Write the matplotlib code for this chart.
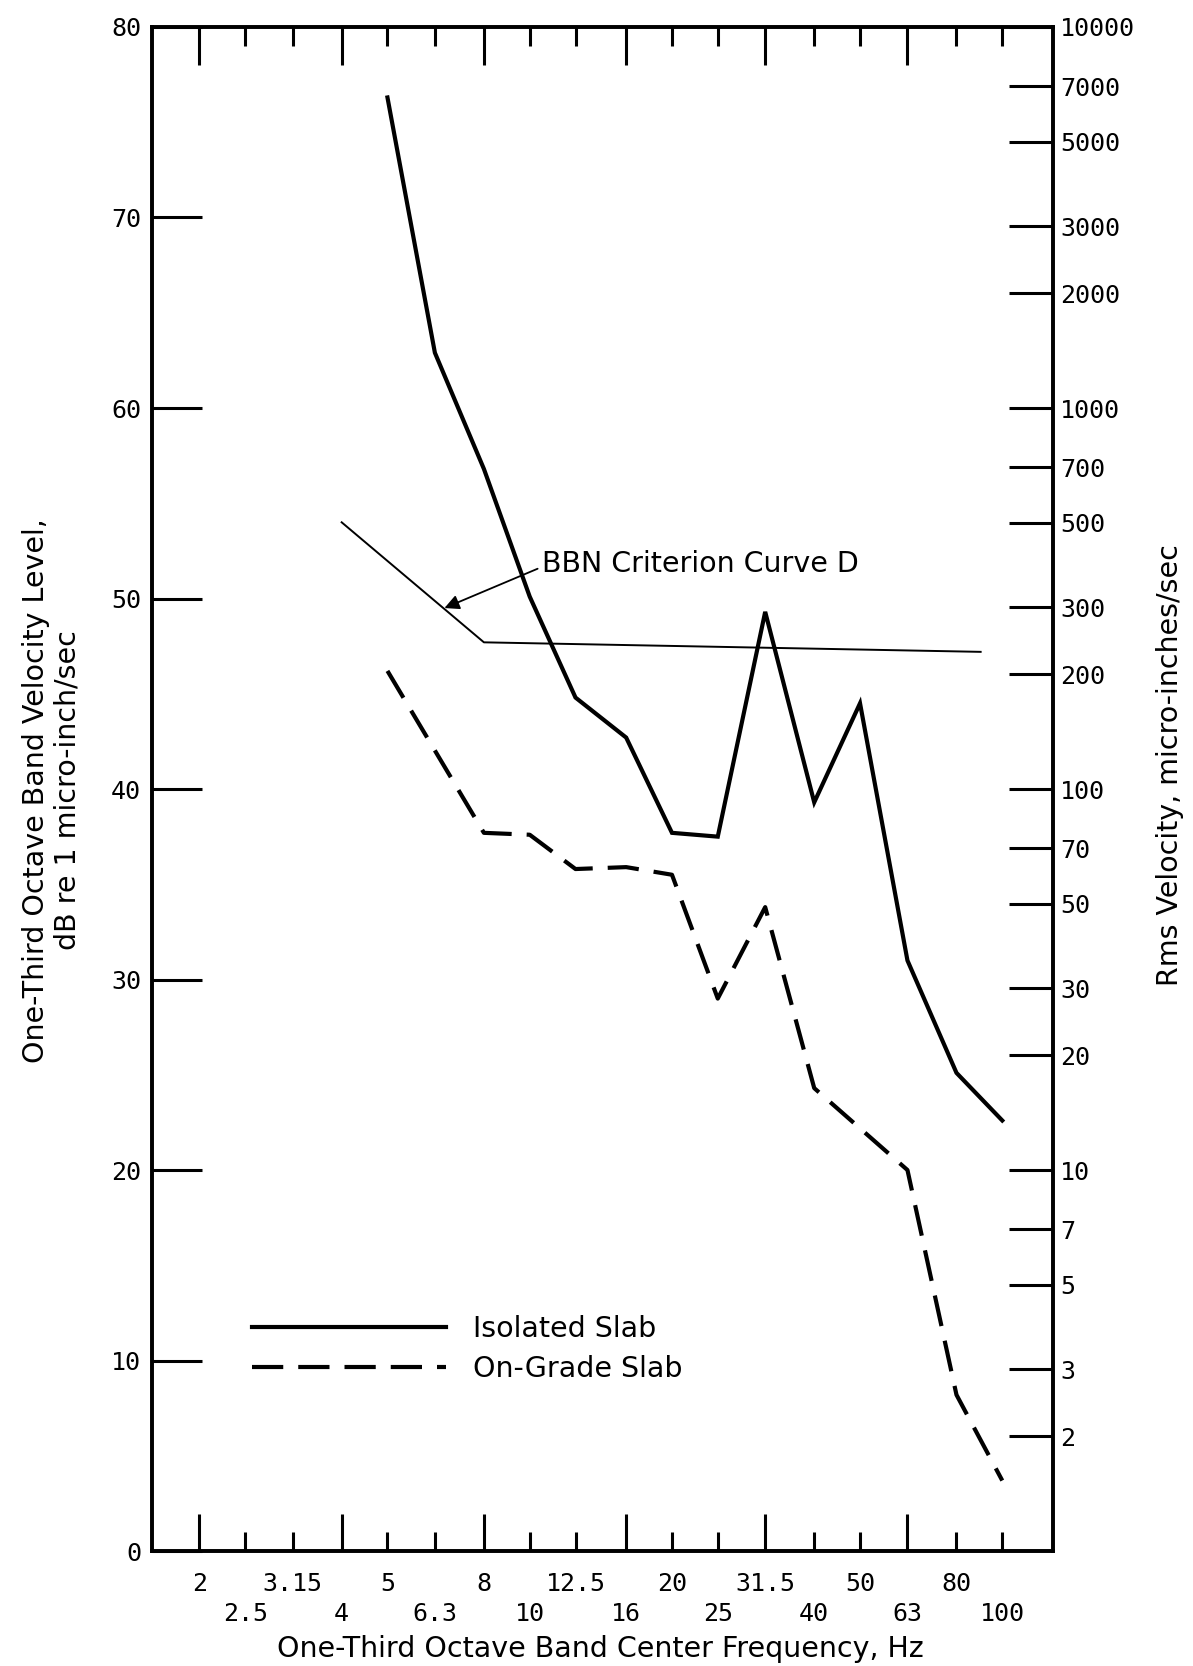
import matplotlib
matplotlib.use('Agg')
import matplotlib.pyplot as plt
from matplotlib.ticker import FixedLocator, FixedFormatter, NullLocator
from matplotlib.lines import Line2D

# ---- data ----
bands = [2, 2.5, 3.15, 4, 5, 6.3, 8, 10, 12.5, 16, 20, 25, 31.5, 40, 50, 63, 80, 100]
band_labels = ['2', '2.5', '3.15', '4', '5', '6.3', '8', '10', '12.5', '16',
               '20', '25', '31.5', '40', '50', '63', '80', '100']
octave_bands = [2, 4, 8, 16, 31.5, 63]

iso_freq = [5, 6.3, 8, 10, 12.5, 16, 20, 25, 31.5, 40, 50, 63, 80, 100]
iso_db = [76.3, 62.9, 56.8, 50.1, 44.8, 42.7, 37.7, 37.5, 49.3, 39.3, 44.5, 31.0, 25.1, 22.6]

grade_freq = [5, 8, 10, 12.5, 16, 20, 25, 31.5, 40, 63, 80, 100]
grade_db = [46.2, 37.7, 37.6, 35.8, 35.9, 35.5, 29.0, 33.8, 24.3, 20.0, 8.2, 3.7]

bbn_freq = [4, 8, 90]
bbn_db = [54.0, 47.7, 47.2]

left_ticks = [0, 10, 20, 30, 40, 50, 60, 70, 80]
right_ticks = [2, 3, 5, 7, 10, 20, 30, 50, 70, 100, 200, 300, 500, 700,
               1000, 2000, 3000, 5000, 7000, 10000]
right_labels = ['2', '3', '5', '7', '10', '20', '30', '50', '70', '100', '200', '300',
                '500', '700', '1000', '2000', '3000', '5000', '7000', '10000']

# ---- figure ----
fig = plt.figure(figsize=(11.93, 16.66), dpi=100)
ax = fig.add_axes([0.1274, 0.0690, 0.7552, 0.9148])

LW_FRAME = 2.6
mono = 'DejaVu Sans Mono'
sans = 'DejaVu Sans'
TICK_FS = 18
LAB_FS = 20.5
DASH = (0, (7.5, 3.6))

ax.plot(iso_freq, iso_db, color='black', lw=3.0, solid_joinstyle='miter', zorder=3)
ax.plot(grade_freq, grade_db, color='black', lw=3.0, linestyle=DASH,
        dash_capstyle='butt', zorder=3)
ax.plot(bbn_freq, bbn_db, color='black', lw=1.4, zorder=2)

ax.set_xscale('log')
fmin = bands[0] * 2 ** (-1 / 3)
fmax = bands[0] * 2 ** 6
ax.set_xlim(fmin, fmax)
ax.set_ylim(0, 80)

# x ticks: octave bands long (major), others short (minor)
major_idx = [i for i, b in enumerate(bands) if b in octave_bands]
minor_idx = [i for i, b in enumerate(bands) if b not in octave_bands]


def lab(i):
    return band_labels[i] if i % 2 == 0 else '\n' + band_labels[i]


ax.xaxis.set_major_locator(FixedLocator([bands[i] for i in major_idx]))
ax.xaxis.set_major_formatter(FixedFormatter([lab(i) for i in major_idx]))
ax.xaxis.set_minor_locator(FixedLocator([bands[i] for i in minor_idx]))
ax.xaxis.set_minor_formatter(FixedFormatter([lab(i) for i in minor_idx]))
ax.tick_params(axis='x', which='major', direction='in', length=27, width=2.2,
               top=True, bottom=True, pad=15, labelsize=TICK_FS)
ax.tick_params(axis='x', which='minor', direction='in', length=14, width=2.2,
               top=True, bottom=True, pad=15, labelsize=TICK_FS)
for t in ax.get_xticklabels(which='both'):
    t.set_fontfamily(mono)
    t.set_linespacing(1.32)

ax.set_yticks(left_ticks)
ax.set_yticklabels([str(v) for v in left_ticks])
ax.tick_params(axis='y', direction='in', length=36, width=2.2, pad=8,
               labelsize=TICK_FS, right=False)
for t in ax.get_yticklabels():
    t.set_fontfamily(mono)

for s in ax.spines.values():
    s.set_linewidth(LW_FRAME)

# right axis: rms velocity, micro-inches/sec (dB re 1 micro-inch/sec)
ax2 = ax.twinx()
ax2.set_yscale('log')
ax2.set_ylim(10 ** (0 / 20), 10 ** (80 / 20))
ax2.yaxis.set_major_locator(FixedLocator(right_ticks))
ax2.yaxis.set_major_formatter(FixedFormatter(right_labels))
ax2.yaxis.set_minor_locator(NullLocator())
ax2.tick_params(axis='y', direction='in', length=32, width=2.2, pad=5, labelsize=TICK_FS)
for t in ax2.get_yticklabels():
    t.set_fontfamily(mono)
for s in ax2.spines.values():
    s.set_linewidth(LW_FRAME)

# labels
ax.set_ylabel('One-Third Octave Band Velocity Level,\ndB re 1 micro-inch/sec',
              fontsize=LAB_FS, family=sans, linespacing=1.15, va='center')
ax.yaxis.set_label_coords(-0.111, 0.499)
ax2.set_ylabel('Rms Velocity, micro-inches/sec', fontsize=LAB_FS, family=sans,
               va='center')
ax2.yaxis.set_label_coords(1.13, 0.516)
ax.set_xlabel('One-Third Octave Band Center Frequency, Hz', fontsize=LAB_FS,
              family=sans, va='center')
ax.xaxis.set_label_coords(0.498, -0.064)

# annotation for BBN curve
ax.annotate('BBN Criterion Curve D', xy=(6.6, 49.5), xytext=(10.6, 51.8),
            fontsize=LAB_FS, family=sans, ha='left', va='center',
            arrowprops=dict(arrowstyle='-|>', color='black', lw=1.3,
                            mutation_scale=22, shrinkA=1, shrinkB=0,
                            relpos=(0.0, 0.4)))

# legend
handles = [Line2D([], [], color='black', lw=3.0),
           Line2D([], [], color='black', lw=3.0, linestyle=DASH,
                  dash_capstyle='butt')]
leg = ax.legend(handles, ['Isolated Slab', 'On-Grade Slab'], loc='center left',
                bbox_to_anchor=(0.111, 0.1325), frameon=False, borderpad=0,
                borderaxespad=0, handlelength=6.8, handletextpad=0.95,
                labelspacing=0.4, prop={'family': sans, 'size': LAB_FS})

fig.savefig('out.png', dpi=100)
